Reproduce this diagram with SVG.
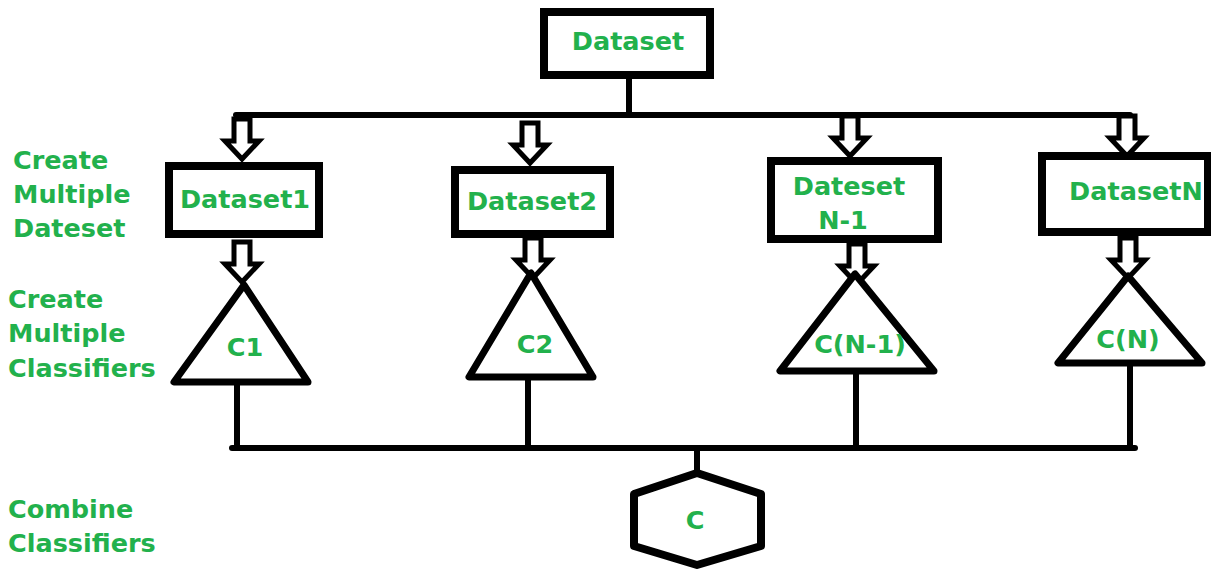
<svg xmlns="http://www.w3.org/2000/svg" width="1211" height="569" viewBox="0 0 1211 569">
<style>
.box{fill:#fff;stroke:#000;stroke-width:8}
.tri{fill:#fff;stroke:#000;stroke-width:7;stroke-linejoin:round}
.ln{stroke:#000;stroke-width:6;fill:none;stroke-linecap:round}
.t{font-family:"DejaVu Sans",Verdana,sans-serif;font-weight:bold;font-size:25.5px;fill:#22b14c}
.m{text-anchor:middle}
</style>
<defs>
<polygon id="arr" points="-8,0 8,0 8,22 17,22 0,40 -17,22 -8,22" fill="#fff" stroke="#000" stroke-width="5" stroke-linejoin="miter"/>
</defs>
<g id="connectors">
<line class="ln" x1="629" y1="78" x2="629" y2="115"/>
<line class="ln" x1="236" y1="115" x2="1130" y2="115"/>
<line class="ln" x1="237" y1="384" x2="237" y2="448"/>
<line class="ln" x1="528" y1="378" x2="528" y2="448"/>
<line class="ln" x1="856" y1="372" x2="856" y2="448"/>
<line class="ln" x1="1130" y1="366" x2="1130" y2="448"/>
<line class="ln" x1="232" y1="448" x2="1135" y2="448"/>
<line class="ln" x1="697" y1="448" x2="697" y2="472"/>
<use href="#arr" x="242" y="119"/>
<use href="#arr" x="530" y="123"/>
<use href="#arr" x="850" y="116"/>
<use href="#arr" x="1127" y="116"/>
<use href="#arr" x="242" y="242"/>
<use href="#arr" x="533" y="238"/>
<use href="#arr" x="857" y="244"/>
<use href="#arr" x="1128" y="238"/>
</g>
<g id="dataset">
<rect class="box" x="544" y="12" width="166" height="63"/>
<text class="t m" x="628" y="50">Dataset</text>
</g>
<g id="dataset1">
<rect class="box" x="169" y="166" width="150" height="68"/>
<text class="t m" x="245" y="208">Dataset1</text>
</g>
<g id="dataset2">
<rect class="box" x="455" y="170" width="155" height="64"/>
<text class="t m" x="532" y="210">Dataset2</text>
</g>
<g id="datasetN1">
<rect class="box" x="771" y="161" width="167" height="78"/>
<text class="t m" x="849" y="195">Dateset</text>
<text class="t m" x="843" y="229">N-1</text>
</g>
<g id="datasetN">
<rect class="box" x="1042" y="156" width="166" height="76"/>
<text class="t m" x="1136" y="200">DatasetN</text>
</g>
<g id="c1">
<polygon class="tri" points="244,285 174,382 308,382"/>
<text class="t m" x="245" y="356">C1</text>
</g>
<g id="c2">
<polygon class="tri" points="531,273 469,377 593,377"/>
<text class="t m" x="535" y="353">C2</text>
</g>
<g id="cn1">
<polygon class="tri" points="855,274 780,371 934,371"/>
<text class="t m" x="860" y="353">C(N-1)</text>
</g>
<g id="cn">
<polygon class="tri" points="1128,276 1058,363 1202,363"/>
<text class="t m" x="1128" y="348">C(N)</text>
</g>
<g id="c">
<polygon class="tri" points="697,473 634,494 634,546 697,565 761,546 761,494" style="stroke-width:8"/>
<text class="t m" x="695" y="529">C</text>
</g>
<g id="labels">
<text class="t" x="13" y="169">Create</text>
<text class="t" x="13" y="203">Multiple</text>
<text class="t" x="13" y="237">Dateset</text>
<text class="t" x="8" y="308">Create</text>
<text class="t" x="8" y="342">Multiple</text>
<text class="t" x="8" y="377">Classifiers</text>
<text class="t" x="8" y="518">Combine</text>
<text class="t" x="8" y="552">Classifiers</text>
</g>
</svg>
